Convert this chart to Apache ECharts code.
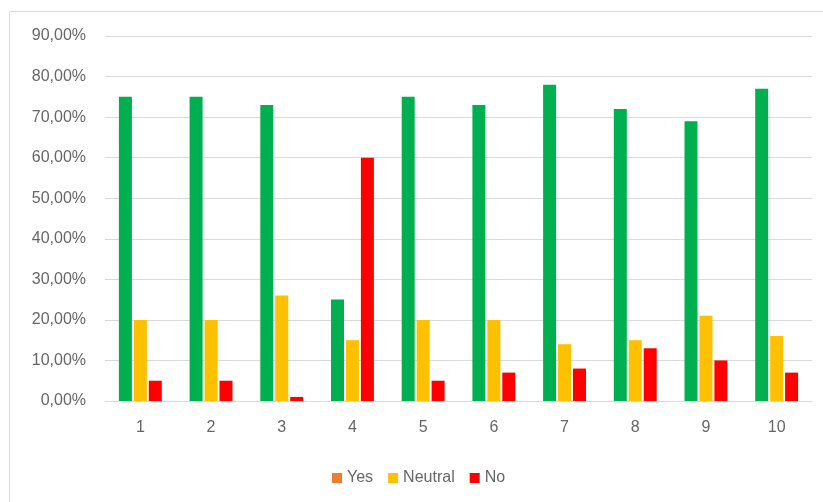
<!DOCTYPE html>
<html>
<head>
<meta charset="utf-8">
<script src="https://cdn.jsdelivr.net/npm/echarts@6/dist/echarts.min.js"></script>
<style>
html,body{margin:0;padding:0;background:#fff;}
#c{width:823px;height:502px;}
</style>
</head>
<body>
<div id="c"></div>
<script>
const categories = ['1','2','3','4','5','6','7','8','9','10'];
const yesValues = [75, 75, 73, 25, 75, 73, 78, 72, 69, 77];
const neutralValues = [20, 20, 26, 15, 20, 20, 14, 15, 21, 16];
const noValues = [5, 5, 1, 60, 5, 7, 8, 13, 10, 7];
const seriesNames = ['Yes', 'Neutral', 'No'];

const chart = echarts.init(document.getElementById('c'), null, {renderer: 'canvas'});
const font = 'Liberation Sans';
const textColor = '#666666';
chart.setOption({
  animation: false,
  backgroundColor: '#fff',
  graphic: [{
    type: 'rect',
    shape: {x: 9.5, y: 11.5, width: 900, height: 600},
    style: {fill: 'none', stroke: '#d9d9d9', lineWidth: 1},
    silent: true
  }],
  grid: {left: 105, right: 11, top: 36, bottom: 101, containLabel: false},
  legend: {
    left: 327,
    top: 465,
    itemWidth: 10,
    itemHeight: 10,
    itemGap: 15,
    icon: 'rect',
    textStyle: {fontFamily: font, fontSize: 16, color: textColor},
    data: [
      {name: 'Yes', itemStyle: {color: '#ED7D31'}},
      {name: 'Neutral'},
      {name: 'No'}
    ]
  },
  xAxis: {
    type: 'category',
    data: categories,
    axisTick: {show: false},
    axisLine: {lineStyle: {color: '#d9d9d9'}},
    axisLabel: {fontFamily: font, fontSize: 16, color: textColor, margin: 19}
  },
  yAxis: {
    type: 'value',
    min: 0,
    max: 90,
    interval: 10,
    axisLine: {show: false},
    axisTick: {show: false},
    splitLine: {lineStyle: {color: '#d9d9d9'}},
    axisLabel: {
      fontFamily: font, fontSize: 16, color: textColor, margin: 19,
      formatter: v => v.toFixed(2).replace('.', ',') + '%'
    }
  },
  series: [
    {name: seriesNames[0], type: 'bar', data: yesValues, barWidth: 13, barGap: '15%', itemStyle: {color: '#00B050'}},
    {name: seriesNames[1], type: 'bar', data: neutralValues, barWidth: 13, barGap: '15%', itemStyle: {color: '#FFC000'}},
    {name: seriesNames[2], type: 'bar', data: noValues, barWidth: 13, barGap: '15%', itemStyle: {color: '#FF0000'}}
  ]
});
</script>
</body>
</html>
